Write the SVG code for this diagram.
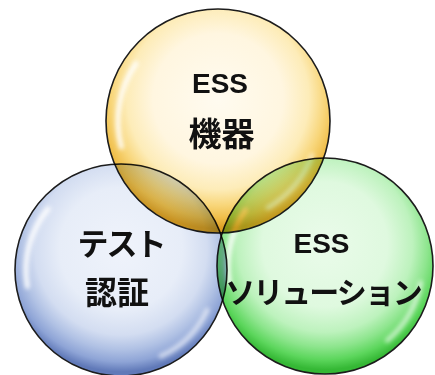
<svg xmlns="http://www.w3.org/2000/svg" width="435" height="375" viewBox="0 0 435 375">
<style>
.ring{stroke:#1c1c1c;stroke-width:1.6}
.node{mix-blend-mode:multiply}
.hl{fill:none;stroke:#ffffff;stroke-linecap:round;filter:url(#blur)}
.lat{font-family:"Liberation Sans",Arial,sans-serif;font-weight:bold;font-size:28px;fill:#111;text-anchor:middle}
.jp{font-family:"Noto Sans CJK JP","Noto Sans",sans-serif;font-weight:bold;fill:#111;text-anchor:middle}
</style>
<defs>
<filter id="blur" x="-50%" y="-50%" width="200%" height="200%"><feGaussianBlur stdDeviation="2.2"/></filter>
<radialGradient id="gY" cx="0.5" cy="0.4" r="0.58">
<stop offset="0" stop-color="#fffbf0"/>
<stop offset="0.5" stop-color="#fff6e0"/>
<stop offset="0.7" stop-color="#fdecb8"/>
<stop offset="0.82" stop-color="#f8d67a"/>
<stop offset="0.92" stop-color="#efbd48"/>
<stop offset="1" stop-color="#dc9d22"/>
</radialGradient>
<radialGradient id="gB" cx="0.5" cy="0.4" r="0.58">
<stop offset="0" stop-color="#eff3fb"/>
<stop offset="0.5" stop-color="#e7edf8"/>
<stop offset="0.7" stop-color="#d3ddf1"/>
<stop offset="0.82" stop-color="#b0c1e4"/>
<stop offset="0.92" stop-color="#8ea4d6"/>
<stop offset="1" stop-color="#6079b8"/>
</radialGradient>
<radialGradient id="gG" cx="0.5" cy="0.4" r="0.58">
<stop offset="0" stop-color="#eafbea"/>
<stop offset="0.5" stop-color="#dff9df"/>
<stop offset="0.7" stop-color="#bdf2bd"/>
<stop offset="0.82" stop-color="#8de58d"/>
<stop offset="0.92" stop-color="#5cd65c"/>
<stop offset="1" stop-color="#35b835"/>
</radialGradient>
</defs>
<rect width="435" height="375" fill="#ffffff"/>
<g id="connectors"/>
<g id="node-ess-kiki" class="node">
<circle class="ring" cx="218" cy="121" r="112" fill="url(#gY)"/>
<path class="hl" stroke-width="5" opacity="0.9" d="M121.4,146.9 A100,100 0 0 1 136.1,63.6"/>
<path class="hl" stroke-width="5" opacity="0.5" d="M312,155.2 A100,100 0 0 1 268,207.6"/>
</g>
<g id="node-test-ninsho" class="node">
<circle class="ring" cx="121" cy="270" r="106" fill="url(#gB)"/>
<path class="hl" stroke-width="5" opacity="0.9" d="M27.4,286.5 A95,95 0 0 1 48.2,208.9"/>
<path class="hl" stroke-width="5" opacity="0.6" d="M207.1,310.2 A95,95 0 0 1 161.2,356.1"/>
</g>
<g id="node-ess-solution" class="node">
<circle class="ring" cx="325" cy="266" r="108" fill="url(#gG)"/>
<path class="hl" stroke-width="5" opacity="0.9" d="M229.5,282.9 A97,97 0 0 1 245.6,210.3"/>
<path class="hl" stroke-width="5" opacity="0.6" d="M420.5,282.9 A97,97 0 0 1 387.4,340.3"/>
</g>
<g id="labels">
<text class="lat" x="220" y="93">ESS</text>
<text class="jp" x="221.5" y="146" font-size="33">機器</text>
<text class="jp" x="121" y="255" font-size="31" letter-spacing="-2">テスト</text>
<text class="jp" x="117" y="304" font-size="32">認証</text>
<text class="lat" x="321.5" y="253">ESS</text>
<text class="jp" x="323" y="303" font-size="30" letter-spacing="-2">ソリューション</text>
</g>
</svg>
